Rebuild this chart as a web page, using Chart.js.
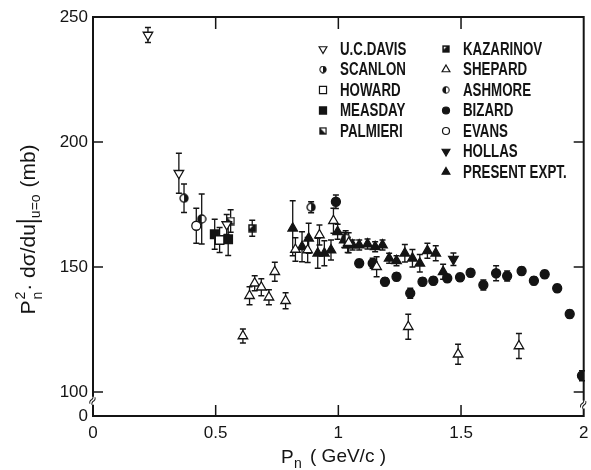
<!DOCTYPE html>
<html>
<head>
<meta charset="utf-8">
<script src="https://cdn.jsdelivr.net/npm/chart.js@4.4.0/dist/chart.umd.min.js"></script>
<style>
  html, body { margin: 0; padding: 0; background: #fff; }
  canvas { display: block; }
</style>
</head>
<body>
<canvas id="chart" width="591" height="470"></canvas>
<script>
// values: P_n (GeV/c), P_n^2 dsigma/du at u=0 (mb), error (mb)
const ucDavisP = [0.224, 0.350, 0.545];
const ucDavisY = [242.8, 187.5, 167.0];
const ucDavisErr = [3, 8, 4];

const scanlonP = [0.371, 0.889];
const scanlonY = [177.5, 173.9];
const scanlonErr = [5.7, 2.2];

const howardP = [0.516];
const howardY = [160.8];
const howardErr = [5];

const measdayP = [0.496, 0.551];
const measdayY = [163.1, 161.1];
const measdayErr = [6, 6.5];

const palmieriP = [0.561];
const palmieriY = [168.4];
const palmieriErr = [4.5];

const kazarinovP = [0.649];
const kazarinovY = [165.5];
const kazarinovErr = [3.2];

const shepardP = [0.611, 0.638, 0.659, 0.686, 0.717, 0.741, 0.785, 0.825, 0.875, 0.923, 0.980, 1.042, 1.156, 1.285, 1.488, 1.736];
const shepardY = [122.4, 138.5, 143.5, 141.9, 137.9, 148.1, 136.5, 157.0, 156.8, 162.8, 168.5, 159.7, 150.1, 126.1, 115.1, 118.4];
const shepardErr = [2.8, 3.6, 3, 3.4, 3, 3.8, 3.2, 4.7, 5, 4, 5, 4, 4, 5, 4, 5];

const ashmoreP = [0.443, 1.030];
const ashmoreY = [169.2, 161.5];
const ashmoreErr = [10, 3];

const bizardP = [0.990, 1.085, 1.140, 1.190, 1.237, 1.293, 1.343, 1.387, 1.444, 1.496, 1.539, 1.591, 1.643, 1.688, 1.747, 1.797, 1.841, 1.892, 1.943, 1.993];
const bizardY = [176.1, 151.5, 151.5, 144.1, 146.1, 139.5, 144.1, 144.5, 145.5, 145.9, 147.7, 142.8, 147.5, 146.4, 148.4, 144.5, 147.1, 141.5, 131.2, 106.5];
const bizardErr = [2.7, 1.5, 2, 1.5, 1.5, 2, 1.5, 1.5, 1.5, 1.5, 1.5, 2, 3, 2, 1.5, 1.5, 1.5, 1.5, 1.5, 2];

const evansP = [0.421];
const evansY = [166.5];
const evansErr = [7];

const hollasP = [1.469];
const hollasY = [153.1];
const hollasErr = [2.5];

const presentP = [0.814, 0.852, 0.879, 0.916, 0.943, 0.970, 0.997, 1.024, 1.038, 1.058, 1.085, 1.119, 1.150, 1.180, 1.207, 1.237, 1.271, 1.302, 1.332, 1.363, 1.397, 1.427];
const presentY = [165.5, 158.1, 161.5, 155.5, 155.5, 156.8, 164.1, 160.8, 158.8, 158.8, 158.8, 159.2, 158.1, 158.8, 153.5, 152.5, 155.5, 153.5, 151.5, 156.5, 155.5, 148.1];
const presentErr = [11, 6, 6, 6, 5, 4, 3, 3, 3, 2, 2, 2, 2, 2, 2, 2, 3.5, 3.5, 3.5, 3, 3, 3];

// axes: the y axis is broken, its bottom end is labelled 0
const xTickValues = [0, 0.5, 1, 1.5, 2];
const xTickLabels = ['0', '0.5', '1', '1.5', '2'];
const yTickValues = [90.4, 100, 150, 200, 250];
const yTickLabels = ['0', '100', '150', '200', '250'];

const ink = '#141414';
const tickFont = 'Liberation Sans, Arial, sans-serif';

// small canvases for the part-filled markers
function icon(size, paint) {
  const c = document.createElement('canvas');
  c.width = c.height = size;
  paint(c.getContext('2d'), size);
  return c;
}
function halfCircle(side) {
  return (g, s) => {
    const r = s / 2 - 1, c = s / 2;
    g.lineWidth = 1.3;
    g.strokeStyle = ink;
    g.fillStyle = '#fff';
    g.beginPath(); g.arc(c, c, r, 0, 2 * Math.PI); g.fill();
    g.fillStyle = ink;
    g.beginPath();
    if (side === 'right') g.arc(c, c, r, -Math.PI / 2, Math.PI / 2);
    else g.arc(c, c, r, Math.PI / 2, 3 * Math.PI / 2);
    g.closePath(); g.fill();
    g.beginPath(); g.arc(c, c, r, 0, 2 * Math.PI); g.stroke();
  };
}
function palmieriSquare(g, s) {
  g.lineWidth = 1.3; g.strokeStyle = ink;
  g.fillStyle = '#fff'; g.fillRect(1, 1, s - 2, s - 2);
  g.fillStyle = ink;
  g.beginPath(); g.moveTo(1, 1); g.lineTo(1, s - 1); g.lineTo(s - 1, s - 1); g.closePath(); g.fill();
  g.strokeRect(1, 1, s - 2, s - 2);
}
function kazarinovSquare(g, s) {
  g.lineWidth = 1.3; g.strokeStyle = ink;
  g.fillStyle = ink; g.fillRect(1, 1, s - 2, s - 2);
  g.fillStyle = '#fff';
  g.beginPath(); g.moveTo(2, 2); g.lineTo(s * 0.55, 2); g.lineTo(2, s * 0.55); g.closePath(); g.fill();
  g.strokeRect(1, 1, s - 2, s - 2);
}

const scanlonIcon = icon(10, halfCircle('right'));
const ashmoreIcon = icon(10, halfCircle('left'));
const palmieriIcon = icon(9, palmieriSquare);
const kazarinovIcon = icon(9, kazarinovSquare);

function series(label, ps, ys, errs, style) {
  return Object.assign({
    label: label,
    data: ps.map((p, i) => ({ x: p, y: ys[i] })),
    errors: errs,
    borderColor: ink,
    borderWidth: 1.3,
    showLine: false
  }, style);
}

const openTri = { pointStyle: 'triangle', pointRadius: 5.5, backgroundColor: '#fff' };
const datasets = [
  series('U.C.DAVIS', ucDavisP, ucDavisY, ucDavisErr, Object.assign({}, openTri, { pointRotation: 180 })),
  series('SCANLON', scanlonP, scanlonY, scanlonErr, { pointStyle: scanlonIcon }),
  series('HOWARD', howardP, howardY, howardErr, { pointStyle: 'rect', pointRadius: 6, backgroundColor: '#fff' }),
  series('MEASDAY', measdayP, measdayY, measdayErr, { pointStyle: 'rect', pointRadius: 6, backgroundColor: ink }),
  series('PALMIERI', palmieriP, palmieriY, palmieriErr, { pointStyle: palmieriIcon }),
  series('KAZARINOV', kazarinovP, kazarinovY, kazarinovErr, { pointStyle: kazarinovIcon }),
  series('SHEPARD', shepardP, shepardY, shepardErr, openTri),
  series('ASHMORE', ashmoreP, ashmoreY, ashmoreErr, { pointStyle: ashmoreIcon }),
  series('BIZARD', bizardP, bizardY, bizardErr, { pointStyle: 'circle', pointRadius: 4.5, backgroundColor: ink }),
  series('EVANS', evansP, evansY, evansErr, { pointStyle: 'circle', pointRadius: 4.5, backgroundColor: '#fff' }),
  series('HOLLAS', hollasP, hollasY, hollasErr, { pointStyle: 'triangle', pointRadius: 5.5, pointRotation: 180, backgroundColor: ink }),
  series('PRESENT EXPT.', presentP, presentY, presentErr, { pointStyle: 'triangle', pointRadius: 5.5, backgroundColor: ink })
];

// vertical error bars with short caps, drawn under the markers
const errorBars = {
  id: 'errorBars',
  beforeDatasetsDraw(chart) {
    const { ctx, scales: { x, y } } = chart;
    ctx.save();
    ctx.strokeStyle = ink;
    ctx.lineWidth = 1.3;
    chart.data.datasets.forEach(ds => {
      (ds.errors || []).forEach((e, i) => {
        const pt = ds.data[i];
        const px = x.getPixelForValue(pt.x);
        const top = y.getPixelForValue(pt.y + e);
        const bot = y.getPixelForValue(pt.y - e);
        ctx.beginPath();
        ctx.moveTo(px, top); ctx.lineTo(px, bot);
        ctx.moveTo(px - 3, top); ctx.lineTo(px + 3, top);
        ctx.moveTo(px - 3, bot); ctx.lineTo(px + 3, bot);
        ctx.stroke();
      });
    });
    ctx.restore();
  }
};

// box frame, inward tick marks and the axis-break marks
const frame = {
  id: 'frame',
  afterDatasetsDraw(chart) {
    const { ctx, chartArea: a, scales: { x, y } } = chart;
    ctx.save();
    ctx.strokeStyle = ink;
    ctx.lineWidth = 2;
    ctx.strokeRect(a.left, a.top, a.right - a.left, a.bottom - a.top);
    ctx.lineWidth = 1.5;
    ctx.beginPath();
    xTickValues.slice(1, -1).forEach(v => {
      const px = x.getPixelForValue(v);
      ctx.moveTo(px, a.bottom); ctx.lineTo(px, a.bottom - 11);
      ctx.moveTo(px, a.top); ctx.lineTo(px, a.top + 12);
    });
    yTickValues.slice(1, -1).forEach(v => {
      const py = y.getPixelForValue(v);
      ctx.moveTo(a.left, py); ctx.lineTo(a.left + 10, py);
      ctx.moveTo(a.right, py); ctx.lineTo(a.right - 10, py);
    });
    ctx.stroke();

    // break marks on both vertical axes
    [[a.left, y.getPixelForValue(96.5)], [a.right, y.getPixelForValue(95)]].forEach(([bx, by]) => {
      ctx.fillStyle = '#fff';
      ctx.fillRect(bx - 3, by - 4, 6, 8);
      ctx.save();
      ctx.translate(bx, by);
      ctx.rotate(-Math.PI / 3);
      ctx.fillStyle = ink;
      ctx.font = '13px DejaVu Sans';
      ctx.textAlign = 'center';
      ctx.textBaseline = 'middle';
      ctx.fillText('\u2248', 0, 0);
      ctx.restore();
    });
    ctx.restore();
  }
};

// two-column key inside the plot
const key = {
  id: 'key',
  afterDraw(chart) {
    const { ctx } = chart;
    const cols = [
      { sx: 323, tx: 340, items: datasets.slice(0, 5) },
      { sx: 446, tx: 463, items: datasets.slice(5) }
    ];
    ctx.save();
    ctx.font = 'bold 18px "Liberation Sans", Arial, sans-serif';
    ctx.textBaseline = 'middle';
    cols.forEach(col => {
      col.items.forEach((ds, i) => {
        const ty = 49 + i * 20.5;
        const style = ds.pointStyle;
        if (typeof style === 'string') {
          ctx.fillStyle = ds.backgroundColor;
          ctx.strokeStyle = ink;
          ctx.lineWidth = 1.2;
          const r = style === 'triangle' ? 4.5 : style === 'rect' ? 5 : 3.5;
          Chart.helpers.drawPoint(ctx, { pointStyle: style, rotation: ds.pointRotation || 0, radius: r, borderWidth: 1.2 }, col.sx, ty);
        } else {
          ctx.drawImage(style, col.sx - 4, ty - 4, 8, 8);
        }
        // the original lettering is narrow, so squeeze it horizontally
        ctx.save();
        ctx.translate(col.tx, ty + 1);
        ctx.scale(0.74, 1);
        ctx.fillStyle = ink;
        ctx.fillText(ds.label, 0, 0);
        ctx.restore();
      });
    });
    ctx.restore();
  }
};

// axis titles with sub- and superscripts
const titles = {
  id: 'titles',
  afterDraw(chart) {
    const { ctx } = chart;
    const big = '21px Liberation Sans, Arial, sans-serif';
    const small = '14px Liberation Sans, Arial, sans-serif';
    ctx.save();
    ctx.fillStyle = ink;
    ctx.textBaseline = 'alphabetic';

    // y title, rotated
    ctx.save();
    ctx.translate(35, 229);
    ctx.rotate(-Math.PI / 2);
    const parts = [
      { t: 'P', f: big, dy: 0 },
      { t: '2', f: small, dy: -10, stackWith: 'n' },
      { t: '\u00b7 d\u03c3/du', f: big, dy: 0 },
      { t: 'BAR' },
      { t: 'u=o', f: small, dy: 5 },
      { t: ' (mb)', f: big, dy: 0 }
    ];
    let w = 0;
    parts.forEach(p => {
      if (p.t === 'BAR') { p.w = 5; } else { ctx.font = p.f; p.w = ctx.measureText(p.t).width + 1; }
      w += p.w;
    });
    let cx = -w / 2;
    parts.forEach(p => {
      if (p.t === 'BAR') {
        ctx.fillRect(cx + 1, -19, 1.8, 26);
      } else {
        ctx.font = p.f;
        ctx.fillText(p.t, cx, p.dy);
        if (p.stackWith) ctx.fillText(p.stackWith, cx, 7);
      }
      cx += p.w;
    });
    ctx.restore();

    // x title
    ctx.font = '19px Liberation Sans, Arial, sans-serif';
    ctx.fillText('P', 281, 463);
    ctx.font = small;
    ctx.fillText('n', 294, 468);
    ctx.font = '19px Liberation Sans, Arial, sans-serif';
    ctx.fillText('( GeV/c )', 310, 462);
    ctx.restore();
  }
};

new Chart(document.getElementById('chart'), {
  type: 'scatter',
  data: { datasets: datasets },
  options: {
    responsive: false,
    devicePixelRatio: 1,
    animation: false,
    layout: { padding: { top: 17, right: 1, left: 0, bottom: 0 } },
    plugins: {
      legend: { display: false },
      tooltip: { enabled: false }
    },
    scales: {
      x: {
        type: 'linear',
        min: 0,
        max: 2,
        afterBuildTicks: s => { s.ticks = xTickValues.map(v => ({ value: v })); },
        afterFit: s => { s.height = 54; s.paddingLeft = 0; s.paddingRight = 0; },
        grid: { display: false, drawTicks: false },
        border: { display: false },
        ticks: {
          autoSkip: false,
          maxRotation: 0,
          padding: 7,
          color: ink,
          font: { family: tickFont, size: 17 },
          callback: (v, i) => xTickLabels[i]
        }
      },
      y: {
        type: 'linear',
        min: yTickValues[0],
        max: 250,
        afterBuildTicks: s => { s.ticks = yTickValues.map(v => ({ value: v })); },
        afterFit: s => { s.width = 93; s.paddingTop = 0; s.paddingBottom = 0; },
        grid: { display: false, drawTicks: false },
        border: { display: false },
        ticks: {
          autoSkip: false,
          padding: 5,
          color: ink,
          font: { family: tickFont, size: 17 },
          callback: (v, i) => yTickLabels[i]
        }
      }
    }
  },
  plugins: [errorBars, frame, key, titles]
});
</script>
</body>
</html>
